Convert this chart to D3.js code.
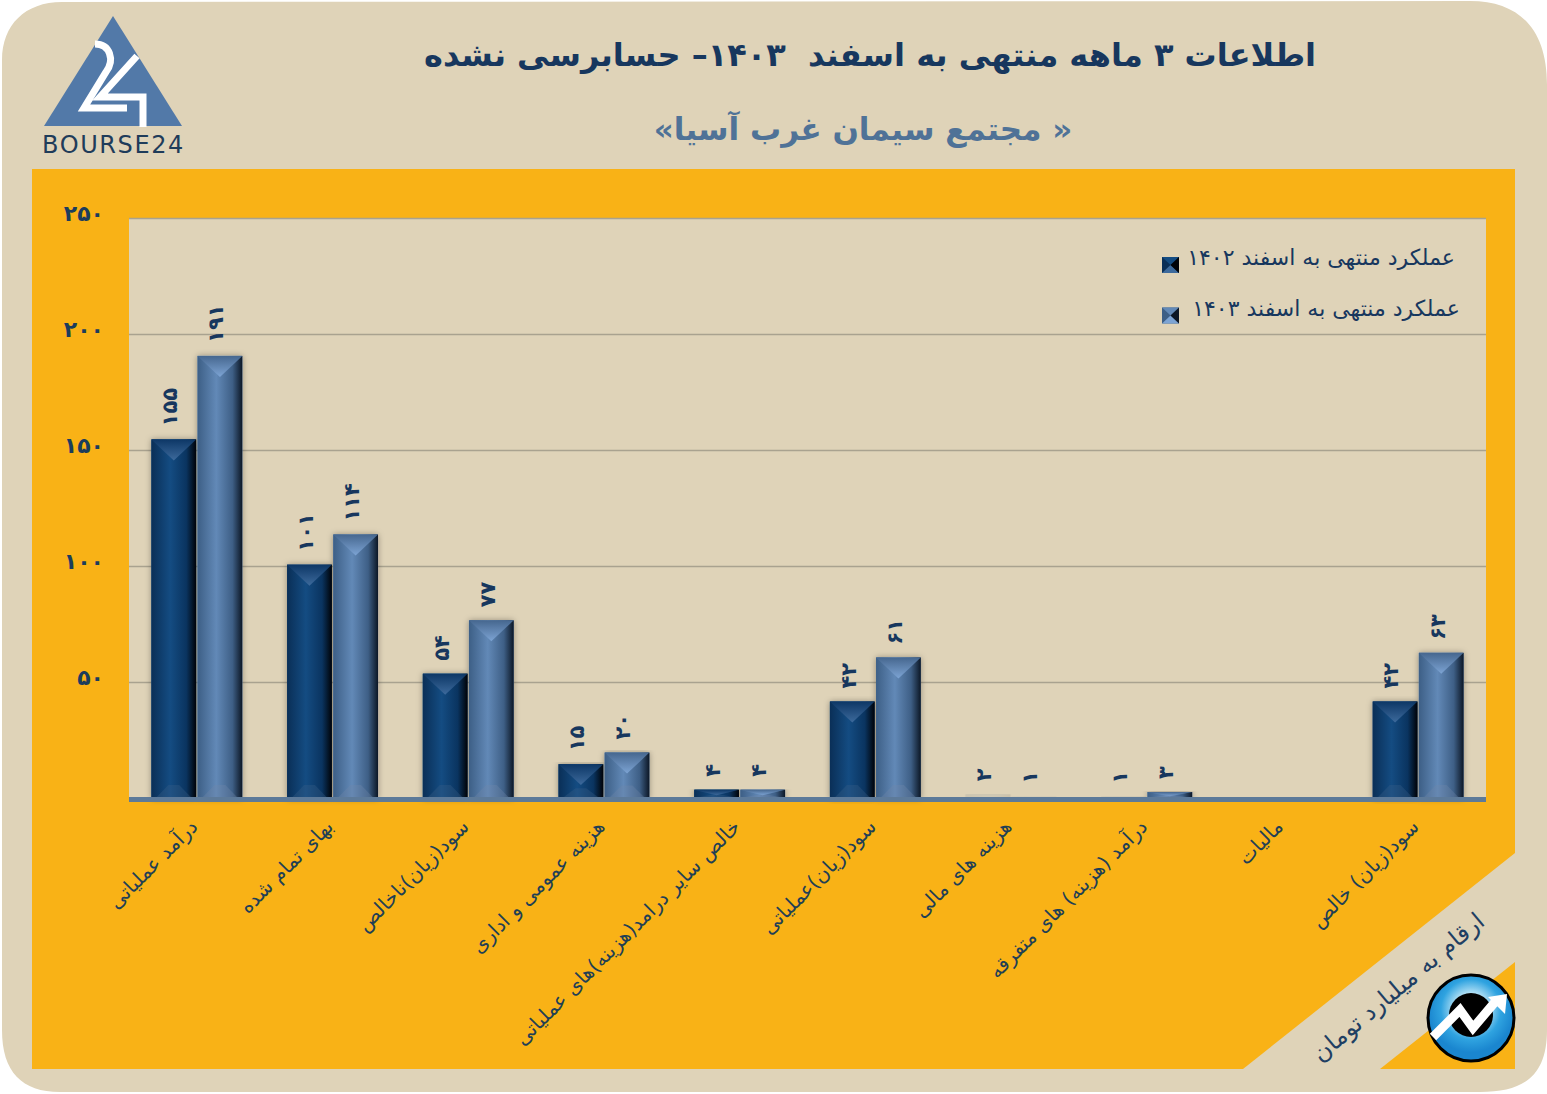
<!DOCTYPE html>
<html lang="fa">
<head>
<meta charset="utf-8">
<title>مجتمع سیمان غرب آسیا</title>
<script src="https://cdn.jsdelivr.net/npm/d3@7"></script>
<style>
  html, body { margin: 0; padding: 0; background: #fff; }
  svg { display: block; }
  text { font-family: "DejaVu Sans", sans-serif; white-space: pre; }
</style>
</head>
<body>
<div id="main"></div>
<script>
const CONFIG = {
  width: 1547,
  height: 1094,
  plot: { left: 129, right: 1486, top: 219, bottom: 799 },
  colors: {
    paper: "#DFD3B8",
    orange: "#F9B216",
    ink: "#17375E",
    grid: "#A9A28F",
    axis: "#5D7A99",
    logo: "#5279A8"
  }
};

const data = [
  { name: "درآمد عملیاتی", y1402: 155, y1403: 191 },
  { name: "بهای تمام شده", y1402: 101, y1403: 114 },
  { name: "سود(زیان)ناخالص", y1402: 54, y1403: 77 },
  { name: "هزینه عمومی و اداری", y1402: 15, y1403: 20 },
  { name: "خالص سایر درامد(هزینه)های عملیاتی", y1402: 4, y1403: 4 },
  { name: "سود(زیان)عملیاتی", y1402: 42, y1403: 61 },
  { name: "هزینه های مالی", y1402: 2, y1403: 1 },
  { name: "درآمد (هزینه) های متفرقه", y1402: 1, y1403: 3 },
  { name: "مالیات", y1402: 0, y1403: 0 },
  { name: "سود(زیان) خالص", y1402: 42, y1403: 63 }
];

const series = [
  { key: "y1402", label: "عملکرد منتهی به اسفند ۱۴۰۲", stops: ["#0A2F57", "#144C82", "#0A3460", "#000308"], cap: "#3D6A9C", capEdge: "#0D3766", foot: "#3A5F86" },
  { key: "y1403", label: "عملکرد منتهی به اسفند ۱۴۰۳", stops: ["#3D5F86", "#6289B7", "#3E5F86", "#0C1726"], cap: "#7DA4D4", capEdge: "#46678F", foot: "#6F88A8" }
];

const toFa = (v) => String(v).replace(/\d/g, (d) => "۰۱۲۳۴۵۶۷۸۹"[d]);

const svg = d3.select("#main").append("svg")
  .attr("width", CONFIG.width)
  .attr("height", CONFIG.height)
  .attr("viewBox", `0 0 ${CONFIG.width} ${CONFIG.height}`);

const defs = svg.append("defs");

function drawBackground() {
  svg.append("path")
    .attr("fill", CONFIG.colors.paper)
    .attr("d", "M62,2 L1470,1 C1520,1 1547,30 1547,85 L1547,1030 C1547,1075 1525,1092 1480,1092 L60,1092 C22,1092 2,1072 2,1030 L2,60 C2,25 25,2 62,2 Z");

  svg.append("path")
    .attr("fill", CONFIG.colors.orange)
    .attr("d", "M32,169 L1515,169 L1515,853 L1243,1069 L32,1069 Z");
  svg.append("path")
    .attr("fill", CONFIG.colors.orange)
    .attr("d", "M1515,962 L1515,1069 L1380,1069 Z");
}

function drawHeader() {
  svg.append("text")
    .attr("x", 870).attr("y", 66)
    .attr("text-anchor", "middle")
    .style("direction", "rtl")
    .attr("fill", CONFIG.colors.ink)
    .attr("font-size", 32)
    .attr("font-weight", "bold")
    .text("اطلاعات ۳ ماهه منتهی به اسفند  ۱۴۰۳– حسابرسی نشده");

  svg.append("text")
    .attr("x", 863).attr("y", 140)
    .attr("text-anchor", "middle")
    .style("direction", "rtl")
    .attr("fill", "#4F7297")
    .attr("font-size", 31)
    .attr("font-weight", "bold")
    .text("« مجتمع سیمان غرب آسیا»");

  // logo
  const logo = svg.append("g");
  logo.append("path").attr("fill", CONFIG.colors.logo)
    .attr("d", "M113,16 L182,126 L44,126 Z");
  logo.append("path")
    .attr("fill", "none").attr("stroke", "#fff").attr("stroke-width", 7)
    .attr("d", "M95,44 C110,44 115,60 106,72 L84,108 L127,108");
  logo.append("path")
    .attr("fill", "none").attr("stroke", "#fff").attr("stroke-width", 7)
    .attr("d", "M137,56 L100,97 L143,97 L143,127");
  logo.append("text")
    .attr("x", 42).attr("y", 153)
    .attr("fill", "#1F3C5A")
    .attr("font-size", 24)
    .attr("letter-spacing", 1.6)
    .text("BOURSE24");
}

function addGradients() {
  series.forEach((s) => {
    const body = defs.append("linearGradient").attr("id", `body-${s.key}`);
    [0, 0.42, 0.78, 1].forEach((o, i) => {
      body.append("stop").attr("offset", o).attr("stop-color", s.stops[i]);
    });

    const cap = defs.append("linearGradient").attr("id", `cap-${s.key}`)
      .attr("x1", 0).attr("y1", 0).attr("x2", 0).attr("y2", 1);
    cap.append("stop").attr("offset", 0).attr("stop-color", s.capEdge);
    cap.append("stop").attr("offset", 1).attr("stop-color", s.cap);
  });

  const shadow = defs.append("filter").attr("id", "barShadow")
    .attr("x", "-20%").attr("y", "-5%").attr("width", "140%").attr("height", "110%");
  shadow.append("feDropShadow")
    .attr("dx", 0).attr("dy", 0).attr("stdDeviation", 3)
    .attr("flood-color", "#000").attr("flood-opacity", 0.35);

  const glow = defs.append("radialGradient").attr("id", "iconFill")
    .attr("cx", 0.5).attr("cy", 0.4);
  glow.append("stop").attr("offset", 0.35).attr("stop-color", "#BFE6F7");
  glow.append("stop").attr("offset", 0.7).attr("stop-color", "#2FA3E0");
  glow.append("stop").attr("offset", 1).attr("stop-color", "#1A86CF");
}

function drawChart() {
  const p = CONFIG.plot;

  const x0 = d3.scaleBand()
    .domain(data.map((d) => d.name))
    .range([p.left, p.right])
    .paddingInner(0.33)
    .paddingOuter(0.165);

  const x1 = d3.scaleBand()
    .domain(series.map((s) => s.key))
    .range([0, x0.bandwidth()])
    .paddingInner(0.03);

  const y = d3.scaleLinear().domain([0, 250]).range([p.bottom, p.top]);

  svg.append("rect")
    .attr("x", p.left).attr("y", p.top)
    .attr("width", p.right - p.left).attr("height", p.bottom - p.top)
    .attr("fill", CONFIG.colors.paper);

  // y axis and grid
  const yAxis = svg.append("g")
    .attr("transform", `translate(${p.left},0)`)
    .call(d3.axisLeft(y).tickValues([50, 100, 150, 200, 250]).tickSize(0).tickPadding(25).tickFormat(toFa));
  yAxis.select(".domain").remove();
  yAxis.selectAll("text")
    .attr("dy", "0.07em")
    .attr("fill", "#1C3D5C")
    .attr("font-size", 22)
    .attr("font-weight", "bold");

  svg.append("g")
    .selectAll("line")
    .data([50, 100, 150, 200, 250])
    .join("line")
    .attr("x1", p.left).attr("x2", p.right)
    .attr("y1", (d) => y(d) - 0.5).attr("y2", (d) => y(d) - 0.5)
    .attr("stroke", CONFIG.colors.grid)
    .attr("stroke-width", 1.6);

  // bars
  const groups = svg.append("g").selectAll("g")
    .data(data)
    .join("g")
    .attr("transform", (d) => `translate(${x0(d.name)},0)`);

  const bars = groups.selectAll("g")
    .data((d) => series.map((s) => ({ s, v: d[s.key] })).filter((b) => b.v > 0))
    .join("g")
    .attr("transform", (b) => `translate(${x1(b.s.key)},0)`)
    // the 1 and 2 bars hardly show in the original
    .attr("opacity", (b) => b.v < 3 ? 0.08 : 1);

  const w = x1.bandwidth();
  bars.append("rect")
    .attr("y", (b) => y(b.v))
    .attr("width", w)
    .attr("height", (b) => y(0) - y(b.v))
    .attr("fill", (b) => b.s.stops[1])
    .attr("filter", "url(#barShadow)");
  bars.append("rect")
    .attr("y", (b) => y(b.v))
    .attr("width", w)
    .attr("height", (b) => y(0) - y(b.v))
    .attr("fill", (b) => `url(#body-${b.s.key})`);

  // bevelled cap and foot, squeezed on the short bars
  bars.append("path")
    .attr("fill", (b) => `url(#cap-${b.s.key})`)
    .attr("d", (b) => {
      const h = Math.min(21, (y(0) - y(b.v)) * 0.6);
      return `M0,${y(b.v)} L${w},${y(b.v)} L${w / 2},${y(b.v) + h} Z`;
    });
  bars.append("path")
    .attr("fill", (b) => b.s.foot)
    .attr("opacity", 0.35)
    .attr("d", (b) => {
      const h = Math.min(12, (y(0) - y(b.v)) * 0.25);
      return `M${w * 0.12},${y(0) - 2} L${w * 0.88},${y(0) - 2} L${w * 0.62},${y(0) - 2 - h} L${w * 0.38},${y(0) - 2 - h} Z`;
    });

  // value labels
  groups.selectAll("text")
    .data((d) => series.map((s) => ({ s, v: d[s.key] })).filter((b) => b.v > 0))
    .join("text")
    .attr("transform", (b) => `translate(${x1(b.s.key) + w / 2 - 4},${y(b.v) - 13}) rotate(-90)`)
    .attr("dy", "0.35em")
    .attr("fill", CONFIG.colors.ink)
    .attr("font-size", 21)
    .attr("font-weight", "bold")
    .text((b) => toFa(b.v));

  // x axis
  const xAxis = svg.append("g")
    .attr("transform", `translate(0,${p.bottom})`)
    .call(d3.axisBottom(x0).tickSize(0).tickPadding(0));
  xAxis.select(".domain").remove();
  xAxis.selectAll("text")
    .style("direction", "rtl")
    .attr("text-anchor", "start")
    .attr("y", 0)
    .attr("dy", 0)
    .attr("transform", "translate(-2,25) rotate(-45)")
    .attr("fill", "#1F3F55")
    .attr("font-size", 20)
    .attr("dominant-baseline", "middle");

  svg.append("rect")
    .attr("x", p.left).attr("y", p.bottom - 2)
    .attr("width", p.right - p.left).attr("height", 5)
    .attr("fill", CONFIG.colors.axis);
}

function drawLegend() {
  const rows = svg.append("g").selectAll("g")
    .data(series)
    .join("g")
    .attr("transform", (s, i) => `translate(1162,${257 + i * 50.5})`);

  rows.append("rect")
    .attr("width", 17).attr("height", 16)
    .attr("fill", (s) => s.stops[0]);
  rows.append("path")
    .attr("fill", (s) => s.stops[1])
    .attr("d", "M0,0 L17,0 L8.5,8 Z");
  rows.append("path")
    .attr("fill", (s) => s.cap)
    .attr("d", "M0,16 L17,16 L8.5,8 Z");
  rows.append("path")
    .attr("fill", (s) => s.stops[3])
    .attr("d", "M17,0 L17,16 L8.5,8 Z");

  rows.append("text")
    .attr("x", (s, i) => 293 + i * 5)
    .attr("y", 8)
    .attr("text-anchor", "start")
    .style("direction", "rtl")
    .attr("fill", CONFIG.colors.ink)
    .attr("font-size", 22)
    .text((s) => s.label);
}

function drawCorner() {
  svg.append("text")
    .attr("transform", "translate(1486,924) rotate(-40)")
    .attr("text-anchor", "start")
    .style("direction", "rtl")
    .attr("fill", "#1F3F63")
    .attr("font-size", 24)
    .text("ارقام به میلیارد تومان");

  const icon = svg.append("g").attr("transform", "translate(1471,1018)");
  icon.append("circle").attr("r", 43).attr("fill", "url(#iconFill)").attr("stroke", "#000").attr("stroke-width", 3);
  icon.append("circle").attr("cy", -3).attr("r", 22).attr("fill", "#000");
  icon.append("path")
    .attr("fill", "none").attr("stroke", "#fff").attr("stroke-width", 9)
    .attr("d", "M-38,19 L-11,-8 L2,10 L24,-16");
  icon.append("path")
    .attr("fill", "#fff")
    .attr("d", "M36,-24 L17,-21 L34,-4 Z");
}

window.onload = () => {
  addGradients();
  drawBackground();
  drawHeader();
  drawChart();
  drawLegend();
  drawCorner();
};
</script>
</body>
</html>
